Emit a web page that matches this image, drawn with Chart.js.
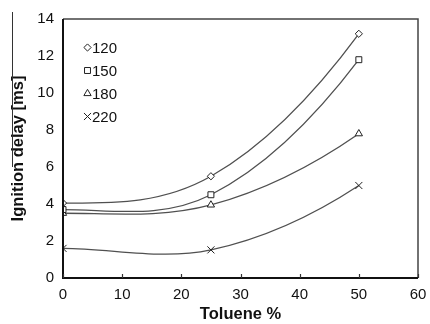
<!DOCTYPE html>
<html><head><meta charset="utf-8">
<script src="https://cdn.jsdelivr.net/npm/chart.js@4"></script>
<style>html,body{margin:0;padding:0;background:#fff}#w{width:430px;height:324px}</style>
</head><body><div id="w"><canvas id="c" width="430" height="324"></canvas></div>
<script>
const toluene = [0, 25, 50];
const seriesLabels = ['120', '150', '180', '220'];
const s120 = [4.05, 5.5, 13.2];
const s150 = [3.7, 4.5, 11.8];
const s180 = [3.5, 3.95, 7.8];
const s220 = [1.6, 1.52, 5.0];
const xTicks = [0, 10, 20, 30, 40, 50, 60];
const yTicks = [0, 2, 4, 6, 8, 10, 12, 14];

const FONT = '"Liberation Sans", Arial, sans-serif';
const styles = ['rectRot', 'rect', 'triangle', 'crossRot'];
const radii = [3.6, 4.2, 4.2, 5];
const all = [s120, s150, s180, s220];
const datasets = all.map((s, i) => ({
  label: seriesLabels[i],
  data: toluene.map((x, j) => ({x, y: s[j]})),
  borderColor: '#505050',
  borderWidth: 1.3,
  tension: 0.3,
  pointStyle: styles[i],
  pointRadius: radii[i],
  pointBorderColor: '#222',
  pointBorderWidth: 1,
  pointBackgroundColor: '#fff',
  fill: false
}));

// smooth curve through the data points: Catmull-Rom interior tangents,
// level start and parabolic end (like the original fitted curves)
const smooth = {
  id: 'smooth',
  beforeDatasetDraw(chart, args) {
    const line = args.meta.dataset;
    if (!line) return;
    line.updateControlPoints(chart.chartArea, args.meta.indexAxis);
    const p = line.points, n = p.length;
    if (n < 3) return;
    const T = new Array(n);
    for (let i = 1; i < n - 1; i++) T[i] = {x: (p[i+1].x - p[i-1].x) / 2, y: (p[i+1].y - p[i-1].y) / 2};
    T[0] = {x: p[1].x - p[0].x, y: 0};
    T[n-1] = {x: 2 * (p[n-1].x - p[n-2].x) - T[n-2].x, y: 2 * (p[n-1].y - p[n-2].y) - T[n-2].y};
    for (let i = 0; i < n; i++) {
      p[i].cp1x = p[i].x - T[i].x / 3; p[i].cp1y = p[i].y - T[i].y / 3;
      p[i].cp2x = p[i].x + T[i].x / 3; p[i].cp2y = p[i].y + T[i].y / 3;
    }
  }
};

const frame = {
  id: 'frame',
  afterDraw(chart) {
    const {ctx, chartArea: a, scales} = chart;
    ctx.save();
    ctx.strokeStyle = '#444'; ctx.lineWidth = 1.5;
    ctx.beginPath();
    ctx.moveTo(a.left, a.top); ctx.lineTo(a.right, a.top); ctx.lineTo(a.right, a.bottom);
    ctx.stroke();
    ctx.strokeStyle = '#111'; ctx.lineWidth = 2;
    ctx.beginPath();
    ctx.moveTo(a.left, a.top); ctx.lineTo(a.left, a.bottom); ctx.lineTo(a.right, a.bottom);
    ctx.stroke();
    ctx.lineWidth = 1.2; ctx.strokeStyle = '#333';
    xTicks.forEach(v => {
      const px = Math.round(scales.x.getPixelForValue(v)) + 0.5;
      ctx.beginPath(); ctx.moveTo(px, a.bottom); ctx.lineTo(px, a.bottom - 4); ctx.stroke();
    });
    // thin rule beside the axis title, as in the original figure
    ctx.strokeStyle = '#333'; ctx.lineWidth = 1;
    ctx.beginPath(); ctx.moveTo(12.5, 12); ctx.lineTo(12.5, 167); ctx.stroke();
    // legend
    ctx.font = '15px ' + FONT;
    ctx.textBaseline = 'middle'; ctx.textAlign = 'left';
    const ys = [47.5, 70.5, 93.5, 116.5];
    seriesLabels.forEach((lab, i) => {
      ctx.strokeStyle = '#222'; ctx.lineWidth = 1; ctx.fillStyle = '#fff';
      if (Chart.helpers && Chart.helpers.drawPoint) {
        Chart.helpers.drawPoint(ctx, {pointStyle: styles[i], radius: radii[i], borderWidth: 1}, 87.5, ys[i]);
      }
      ctx.fillStyle = '#111';
      ctx.fillText(lab, 92, ys[i] + 1);
    });
    ctx.restore();
  }
};

new Chart(document.getElementById('c'), {
  type: 'line',
  data: {datasets},
  options: {
    responsive: false,
    animation: false,
    devicePixelRatio: 1,
    layout: {padding: {left: 0, right: 0, top: 19, bottom: 0}},
    plugins: {legend: {display: false}, tooltip: {enabled: false}},
    scales: {
      x: {
        type: 'linear', min: 0, max: 60,
        afterBuildTicks: s => { s.ticks = xTicks.map(v => ({value: v})); },
        afterFit: s => { s.height = 46; s.paddingRight = 12; s.paddingLeft = 0; },
        grid: {display: false, drawTicks: false},
        border: {display: false},
        ticks: {color: '#111', padding: 8, font: {size: 15, family: FONT}},
        title: {display: true, text: 'Toluene %', color: '#111', padding: {top: 0, bottom: 0},
          font: {size: 16.5, weight: 'bold', family: FONT}}
      },
      y: {
        type: 'linear', min: 0, max: 14,
        afterBuildTicks: s => { s.ticks = yTicks.map(v => ({value: v})); },
        afterFit: s => { s.width = 63; },
        grid: {display: false, drawTicks: false},
        border: {display: false},
        ticks: {color: '#111', padding: 9, font: {size: 15, family: FONT}},
        title: {display: true, text: 'Ignition delay [ms]', color: '#111', padding: {top: 9, bottom: 0},
          font: {size: 16.5, weight: 'bold', family: FONT}}
      }
    }
  },
  plugins: [smooth, frame]
});
</script></body></html>
